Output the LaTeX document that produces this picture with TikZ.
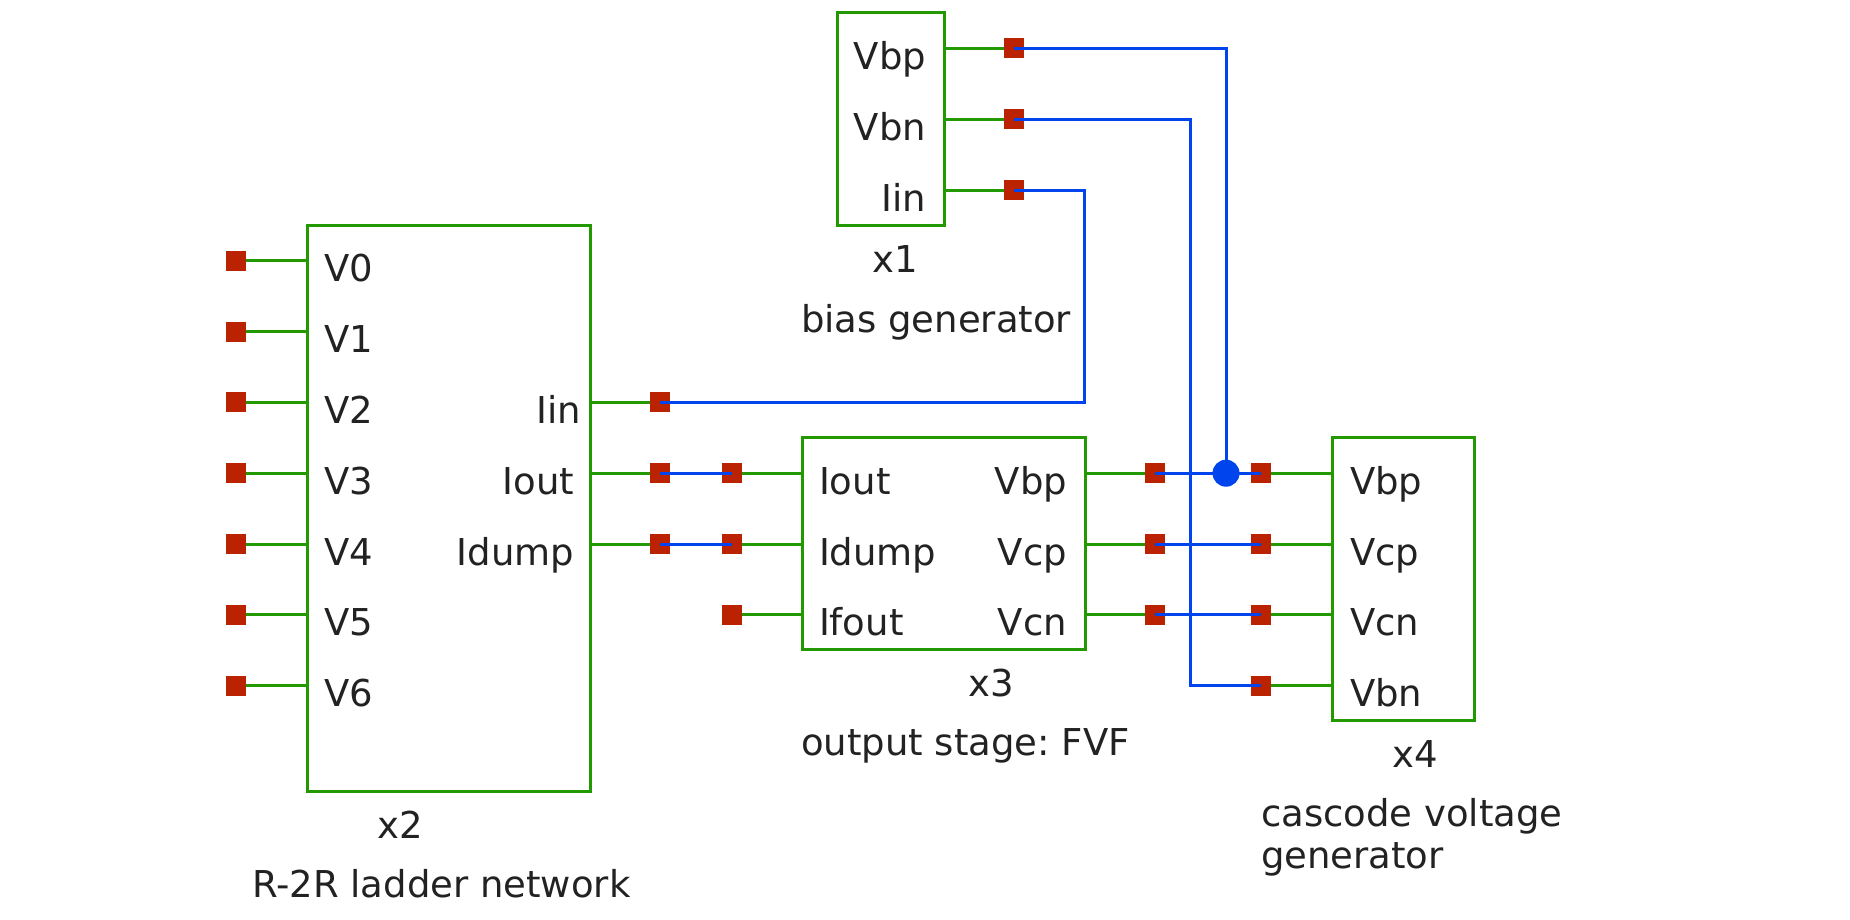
\documentclass[tikz,border=0pt]{standalone}
\usepackage{fontspec}
\setmainfont{DejaVu Sans}
\usepackage{tikz}
\usetikzlibrary{positioning}
\definecolor{symgreen}{RGB}{34,153,0}
\definecolor{pinred}{RGB}{187,34,0}
\definecolor{netblue}{RGB}{0,68,238}
\definecolor{txtgray}{RGB}{34,34,34}
\tikzset{
  blk/.style={draw=symgreen, line width=1.2pt, inner sep=0, outer sep=0},
  lead/.style={draw=symgreen, line width=1.2pt},
  pinsq/.style={fill=pinred, minimum size=8pt, inner sep=0, outer sep=0},
  net/.style={draw=netblue, line width=1.2pt},
  jdot/.style={circle, fill=netblue, minimum size=10.8pt, inner sep=0},
  lbl/.style={text=txtgray, inner sep=0, outer sep=0, font=\fontsize{14.8}{17.2}\selectfont}
}
\frenchspacing

\begin{document}
\begin{tikzpicture}[x=0.4pt, y=-0.4pt]
	\useasboundingbox (0,0) rectangle (1850,919);
	% blocks
	\node[blk, minimum width=42.8pt, minimum height=85pt] (bx1) at (890.5,119.25) {};
	\node[blk, minimum width=113.2pt, minimum height=226.2pt] (bx2) at (448.5,508.25) {};
	\node[blk, minimum width=113.2pt, minimum height=84.6pt] (bx3) at (943.5,543.25) {};
	\node[blk, minimum width=56.8pt, minimum height=113pt] (bx4) at (1403,578.75) {};
	% x2: ladder inputs
	\foreach \i in {0,...,6}{
		\node[pinsq] (v\i) at (236, 260.8+70.8*\i) {};
		\draw[lead] (v\i) -- (bx2.west |- v\i);
		\node[lbl, anchor=base west] (lv\i) at (324.5, 281.8+70.8*\i) {V\i};
	}
	% x2: outputs
	\foreach \n/\t/\k/\x in {iin/Iin/5/581, iout/Iout/6/574, idump/Idump/7/574}{
		\node[pinsq] (p2\n) at (660, 48.4+70.8*\k) {};
		\draw[lead] (bx2.east |- p2\n) -- (p2\n);
		\node[lbl, anchor=base east] (l2\n) at (\x, 69.4+70.8*\k) {\t};
	}
	% x1: bias generator
	\foreach \n/\t/\k in {vbp/Vbp/0, vbn/Vbn/1, iin/Iin/2}{
		\node[pinsq] (p1\n) at (1014, 48.4+70.8*\k) {};
		\draw[lead] (bx1.east |- p1\n) -- (p1\n);
		\node[lbl, anchor=base east] (l1\n) at (926, 69.4+70.8*\k) {\t};
	}
	% x3: output stage
	\foreach \n/\t/\k in {iout/Iout/6, idump/Idump/7, ifout/Ifout/8}{
		\node[pinsq] (p3\n) at (732, 48.4+70.8*\k) {};
		\draw[lead] (p3\n) -- (bx3.west |- p3\n);
		\node[lbl, anchor=base west] (l3\n) at (819, 69.4+70.8*\k) {\t};
	}
	\foreach \n/\t/\k in {vbp/Vbp/6, vcp/Vcp/7, vcn/Vcn/8}{
		\node[pinsq] (p3\n) at (1155, 48.4+70.8*\k) {};
		\draw[lead] (bx3.east |- p3\n) -- (p3\n);
		\node[lbl, anchor=base east] (l3\n) at (1067, 69.4+70.8*\k) {\t};
	}
	% x4: cascode voltage generator
	\foreach \n/\t/\k in {vbp/Vbp/6, vcp/Vcp/7, vcn/Vcn/8, vbn/Vbn/9}{
		\node[pinsq] (p4\n) at (1261, 48.4+70.8*\k) {};
		\draw[lead] (p4\n) -- (bx4.west |- p4\n);
		\node[lbl, anchor=base west] (l4\n) at (1350, 69.4+70.8*\k) {\t};
	}
	% captions
	\node[lbl, anchor=base] (n1) at (895,272) {x1};
	\node[lbl, anchor=base west] (d1) at (801,332) {bias generator};
	\node[lbl, anchor=base] (n2) at (400,838) {x2};
	\node[lbl, anchor=base west] (d2) at (252,897) {R-2R ladder network};
	\node[lbl, anchor=base] (n3) at (991,696) {x3};
	\node[lbl, anchor=base west] (d3) at (801,755) {output stage: FVF};
	\node[lbl, anchor=base] (n4) at (1415,767) {x4};
	\node[lbl, anchor=base west] (d4) at (1261,826) {cascode voltage};
	\node[lbl, anchor=base west] (d4b) at (1261,868) {generator};
	% nets
	\node[jdot] (jp) at (1226,473.2) {};
	\coordinate (jn) at (1190,119.2);
	\coordinate (ji) at (1084,190);
	\draw[net] (p1vbp.center) -| (jp.center);
	\draw[net] (p3vbp.center) -- (p4vbp.center);
	\draw[net] (p1vbn.center) -- (jn) |- (p4vbn.center);
	\draw[net] (p1iin.center) -- (ji) |- (p2iin.center);
	\draw[net] (p2iout.center) -- (p3iout.center);
	\draw[net] (p2idump.center) -- (p3idump.center);
	\draw[net] (p3vcp.center) -- (p4vcp.center);
	\draw[net] (p3vcn.center) -- (p4vcn.center);
\end{tikzpicture}
\end{document}
